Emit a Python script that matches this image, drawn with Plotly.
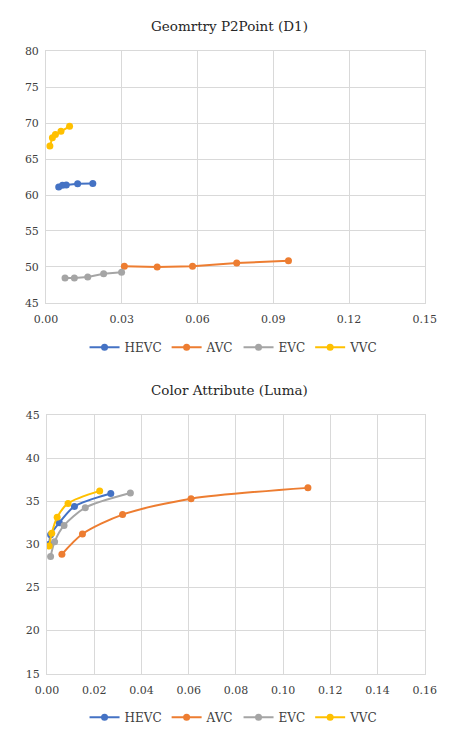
import plotly.graph_objects as go

# ---- data: Geometry P2Point (D1) ----
series = ["HEVC", "AVC", "EVC", "VVC"]
colors = ["#4472C4", "#ED7D31", "#A5A5A5", "#FFC000"]

geo_hevc_x = [0.005, 0.0065, 0.008, 0.0125, 0.0185]
geo_hevc_y = [61.1, 61.35, 61.4, 61.55, 61.6]
geo_avc_x = [0.031, 0.044, 0.058, 0.0755, 0.096]
geo_avc_y = [50.1, 50.0, 50.1, 50.55, 50.85]
geo_evc_x = [0.0075, 0.0112, 0.0165, 0.0228, 0.0299]
geo_evc_y = [48.45, 48.45, 48.6, 49.05, 49.25]
geo_vvc_x = [0.0015, 0.0025, 0.0037, 0.0059, 0.0093]
geo_vvc_y = [66.8, 67.95, 68.4, 68.85, 69.55]

# ---- data: Color Attribute (Luma) ----
luma_hevc_x = [0.001, 0.0015, 0.0052, 0.0116, 0.027]
luma_hevc_y = [30.0, 31.1, 32.5, 34.4, 35.9]
luma_avc_x = [0.0063, 0.015, 0.032, 0.061, 0.1105]
luma_avc_y = [28.85, 31.2, 33.45, 35.3, 36.55]
luma_evc_x = [0.0015, 0.0032, 0.0072, 0.0162, 0.0353]
luma_evc_y = [28.6, 30.3, 32.2, 34.25, 35.95]
luma_vvc_x = [0.0009, 0.002, 0.0043, 0.0089, 0.0223]
luma_vvc_y = [29.8, 31.3, 33.15, 34.75, 36.2]

geo = [(geo_hevc_x, geo_hevc_y), (geo_avc_x, geo_avc_y), (geo_evc_x, geo_evc_y), (geo_vvc_x, geo_vvc_y)]
luma = [(luma_hevc_x, luma_hevc_y), (luma_avc_x, luma_avc_y), (luma_evc_x, luma_evc_y), (luma_vvc_x, luma_vvc_y)]

FONT = "DejaVu Serif"
TXT = "#404040"
GRID = "#D9D9D9"

fig = go.Figure()
for name, c, (x, y) in zip(series, colors, geo):
    fig.add_trace(go.Scatter(x=x, y=y, name=name, mode="lines+markers",
                             line=dict(color=c, width=2), marker=dict(color=c, size=7),
                             xaxis="x", yaxis="y", legend="legend"))
for name, c, (x, y) in zip(series, colors, luma):
    fig.add_trace(go.Scatter(x=x, y=y, name=name, mode="lines+markers",
                             line=dict(color=c, width=2, shape="spline", smoothing=0.8),
                             marker=dict(color=c, size=7),
                             xaxis="x2", yaxis="y2", legend="legend2"))

W, H = 451, 732
def px_x(p): return p / W
def px_y(p): return 1 - p / H

axis_common = dict(showgrid=True, gridcolor=GRID, gridwidth=1, zeroline=False,
                   showline=True, linecolor=GRID, linewidth=1, mirror=True,
                   ticks="", tickfont=dict(family=FONT, size=11, color=TXT))

fig.update_layout(
    width=W, height=H,
    margin=dict(l=0, r=0, t=0, b=0),
    paper_bgcolor="white", plot_bgcolor="white",
    font=dict(family=FONT, color=TXT),
    xaxis=dict(domain=[px_x(36), px_x(436)], range=[0, 0.15], dtick=0.03, tickformat=".2f",
               anchor="y", ticklabelstandoff=6, **axis_common),
    yaxis=dict(domain=[px_y(302.7), px_y(46)], range=[45, 80], dtick=5,
               anchor="x", ticklabelstandoff=4, **axis_common),
    xaxis2=dict(domain=[px_x(37), px_x(436)], range=[0, 0.16], dtick=0.02, tickformat=".2f",
                anchor="y2", ticklabelstandoff=6, **axis_common),
    yaxis2=dict(domain=[px_y(680.7), px_y(417)], range=[15, 45], dtick=5,
                anchor="x2", ticklabelstandoff=4, **axis_common),
    legend=dict(orientation="h", x=0.52, xanchor="center", y=px_y(348), yanchor="middle",
                font=dict(family=FONT, size=12, color=TXT), bgcolor="rgba(0,0,0,0)"),
    legend2=dict(orientation="h", x=0.52, xanchor="center", y=px_y(725), yanchor="middle",
                 font=dict(family=FONT, size=12, color=TXT), bgcolor="rgba(0,0,0,0)"),
    annotations=[
        dict(text="Geomrtry P2Point (D1)", x=0.51, y=px_y(20), xref="paper", yref="paper",
             showarrow=False, font=dict(family=FONT, size=13.5, color="#262626"),
             xanchor="center", yanchor="middle"),
        dict(text="Color Attribute (Luma)", x=0.51, y=px_y(391), xref="paper", yref="paper",
             showarrow=False, font=dict(family=FONT, size=13.5, color="#262626"),
             xanchor="center", yanchor="middle"),
    ],
)

fig.write_html("out.html")
